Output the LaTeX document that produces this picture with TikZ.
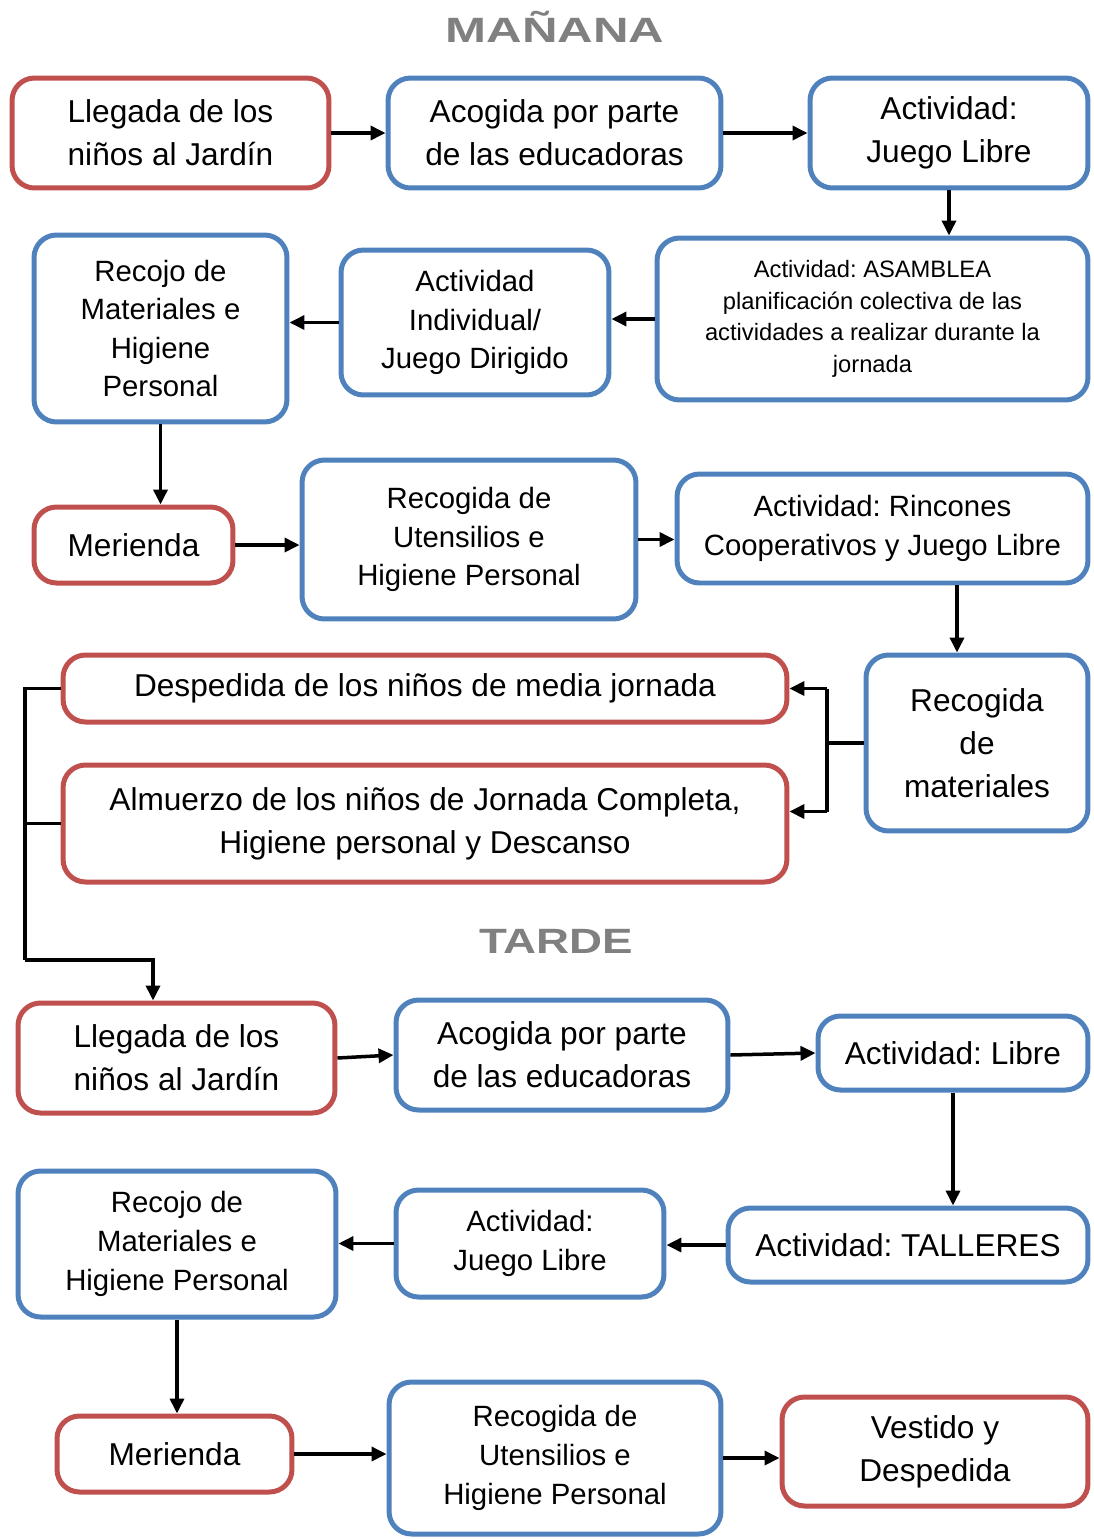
\documentclass[tikz,border=0pt]{standalone}
\usepackage{fontspec}
\setmainfont{Liberation Sans}
\usetikzlibrary{arrows.meta}
\usetikzlibrary{positioning}
\frenchspacing

\definecolor{boxred}{RGB}{192,80,77}
\definecolor{boxblue}{RGB}{79,129,189}
\definecolor{titlegray}{RGB}{128,128,128}

\begin{document}
\begin{tikzpicture}[x=0.02cm,y=-0.02cm,
redbox/.style={draw=boxred, line width=0.1cm, rounded corners=0.45cm, align=center,
  inner sep=0pt, font=\fontsize{18}{24.5}\selectfont},
bluebox/.style={redbox, draw=boxblue},
smalltxt/.style={font=\fontsize{16.7}{22}\selectfont},
tinytxt/.style={font=\fontsize{13.5}{18}\selectfont},
arr/.style={line width=0.07cm, -{Triangle[length=0.3cm,width=0.28cm]}},
conn/.style={line width=0.07cm},
heading/.style={font=\fontsize{20}{20}\selectfont\bfseries, text=titlegray}]
\useasboundingbox (0,0) rectangle (1093,1539);

% manana
\node[heading] (manana) at (555,27) {\scalebox{1.4}[1]{MAÑANA}};
\node[redbox, minimum width=6.34cm, minimum height=2.2cm] (m1) at (170.5,133) {Llegada de los\\niños al Jardín};
\node[bluebox, minimum width=6.66cm, minimum height=2.2cm] (m2) at (554.5,133) {Acogida por parte\\de las educadoras};
\node[bluebox, minimum width=5.56cm, minimum height=2.2cm] (m3) at (949,133) {Actividad:\\Juego Libre};
\node[bluebox, tinytxt, minimum width=8.62cm, minimum height=3.24cm] (m4) at (872.5,319) {Actividad: ASAMBLEA\\planificación colectiva de las\\actividades a realizar durante la\\jornada};
\node[bluebox, smalltxt, minimum width=5.36cm, minimum height=2.9cm] (m5) at (475,322.5) {Actividad\\Individual/\\Juego Dirigido};
\node[bluebox, smalltxt, minimum width=5.06cm, minimum height=3.74cm] (m6) at (160.5,328.5) {Recojo de\\Materiales e\\Higiene\\Personal};
\node[redbox, minimum width=3.98cm, minimum height=1.52cm] (m7) at (133.5,545) {Merienda};
\node[bluebox, smalltxt, minimum width=6.68cm, minimum height=3.18cm] (m8) at (469,539.5) {Recogida de\\Utensilios e\\Higiene Personal};
\node[bluebox, smalltxt, minimum width=8.22cm, minimum height=2.18cm] (m9) at (882.5,528.5) {Actividad: Rincones\\Cooperativos y Juego Libre};
\node[bluebox, minimum width=4.44cm, minimum height=3.52cm] (m10) at (977,743) {Recogida\\de\\materiales};
\node[redbox, minimum width=14.48cm, minimum height=1.34cm] (m11) at (425,688.5) {Despedida de los niños de media jornada};
\node[redbox, minimum width=14.48cm, minimum height=2.34cm] (m12) at (425,823.5) {Almuerzo de los niños de Jornada Completa,\\Higiene personal y Descanso};

\draw[arr] (m1.east) -- (m2.west);
\draw[arr] (m2.east) -- (m3.west);
\draw[arr] (m3.south) -- (m3.south |- m4.north);
\draw[arr] (m4.west) -- (m4.west -| m5.east);
\draw[arr] (m5.west) -- (m5.west -| m6.east);
\draw[arr] (m6.south) -- (m6.south |- m7.north);
\draw[arr] (m7.east) -- (m7.east -| m8.west);
\draw[arr] (m8.east) -- (m8.east -| m9.west);
\draw[arr] ([xshift=-0.4cm]m10.north |- m9.south) -- ([xshift=-0.4cm]m10.north);
\coordinate (fork) at (827,743);
\draw[conn] (m10.west) -- (fork);
\draw[arr] (fork |- m11.east) -- (m11.east);
\draw[arr] ([yshift=0.24cm]m12.east -| fork) -- ([yshift=0.24cm]m12.east);
\draw[conn] (fork |- m11.east) -- ([yshift=0.24cm]m12.east -| fork);

% tarde
\node[heading] (tarde) at (556,941) {\scalebox{1.3}[1]{TARDE}};
\node[redbox, minimum width=6.34cm, minimum height=2.2cm] (t1) at (176.5,1058) {Llegada de los\\niños al Jardín};
\node[bluebox, minimum width=6.64cm, minimum height=2.2cm] (t2) at (562,1055) {Acogida por parte\\de las educadoras};
\node[bluebox, minimum width=5.4cm, minimum height=1.48cm] (t3) at (953,1053) {Actividad: Libre};
\node[bluebox, minimum width=7.2cm, minimum height=1.48cm] (t4) at (908,1245) {Actividad: TALLERES};
\node[bluebox, smalltxt, minimum width=5.36cm, minimum height=2.14cm] (t5) at (530,1243.5) {Actividad:\\Juego Libre};
\node[bluebox, smalltxt, minimum width=6.36cm, minimum height=2.92cm] (t6) at (177,1244) {Recojo de\\Materiales e\\Higiene Personal};
\node[redbox, minimum width=4.7cm, minimum height=1.52cm] (t7) at (174.5,1454) {Merienda};
\node[bluebox, smalltxt, minimum width=6.64cm, minimum height=3.04cm] (t8) at (555,1458) {Recogida de\\Utensilios e\\Higiene Personal};
\node[redbox, minimum width=6.12cm, minimum height=2.18cm] (t9) at (935,1451.5) {Vestido y\\Despedida};

\coordinate (brk) at (25,960);
\draw[conn] (m11.west) -- (m11.west -| brk) -- (brk);
\draw[conn] (m12.west) -- (m12.west -| brk);
\draw[arr] (brk) -| ([xshift=-0.47cm]t1.north);

\draw[arr] (t1.east) -- (t2.west);
\draw[arr] (t2.east) -- (t3.west);
\draw[arr] (t3.south) -- (t3.south |- t4.north);
\draw[arr] (t4.west) -- (t4.west -| t5.east);
\draw[arr] (t5.west) -- (t5.west -| t6.east);
\draw[arr] (t6.south) -- (t6.south |- t7.north);
\draw[arr] (t7.east) -- (t7.east -| t8.west);
\draw[arr] (t8.east) -- (t8.east -| t9.west);
\end{tikzpicture}
\end{document}
